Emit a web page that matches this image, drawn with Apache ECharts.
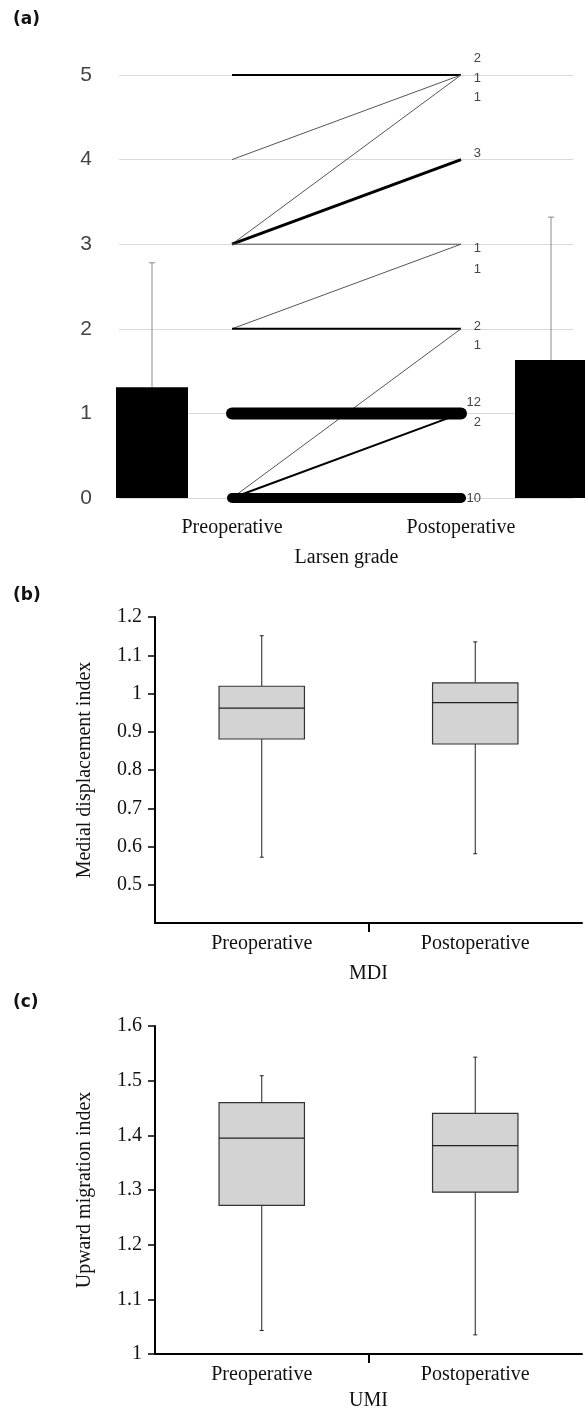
<!DOCTYPE html>
<html><head><meta charset="utf-8">
<script src="https://cdn.jsdelivr.net/npm/echarts@6/dist/echarts.min.js"></script>
<style>html,body{margin:0;padding:0;background:#fff}#c{width:585px;height:1412px}</style>
</head><body><div id="c"></div>
<script>
// ---------- data ----------
const groups = ['Preoperative', 'Postoperative'];
// Panel (a): Larsen grade
const barMean  = [1.31, 1.63];
const barUpper = [2.78, 3.32];
const preGrade  = [5, 4, 3, 3, 3, 2, 2, 0, 1, 0, 0];
const postGrade = [5, 5, 5, 4, 3, 3, 2, 2, 1, 1, 0];
const patients  = [2, 1, 1, 3, 1, 1, 2, 1, 12, 2, 10];
// Panel (b): MDI  [min, Q1, median, Q3, max]
const mdiPre  = [0.572, 0.881, 0.962, 1.019, 1.151];
const mdiPost = [0.581, 0.868, 0.976, 1.028, 1.135];
const mdiTicks = [0.5, 0.6, 0.7, 0.8, 0.9, 1.0, 1.1, 1.2];
// Panel (c): UMI  [min, Q1, median, Q3, max]
const umiPre  = [1.043, 1.272, 1.395, 1.460, 1.509];
const umiPost = [1.035, 1.296, 1.381, 1.440, 1.543];
const umiTicks = [1.0, 1.1, 1.2, 1.3, 1.4, 1.5, 1.6];

// ---------- styling helpers ----------
const SERIF = 'Liberation Serif';
const SANS = 'Liberation Sans';
const stackDy = {5: [-17, 3, 22], 4: [-6], 3: [4, 25], 2: [-2, 17], 1: [-11, 9], 0: [0]};

const chart = echarts.init(document.getElementById('c'), null, {renderer: 'canvas'});

const lineSeries = patients.map((n, i) => ({
  type: 'line', xAxisIndex: 1, yAxisIndex: 1, silent: true, animation: false,
  symbol: 'none', z: 5,
  data: [preGrade[i], postGrade[i]],
  lineStyle: {width: n, color: n === 1 ? '#555' : '#000', cap: n >= 10 ? 'round' : 'butt'}
}));

const labelData = patients.map((n, i) => {
  let rank = 0;
  for (let j = 0; j < i; j++) if (postGrade[j] === postGrade[i]) rank++;
  return [1, postGrade[i], n, rank];
});

function boxItem(params, api) {
  const i = api.value(0);
  const v = [1, 2, 3, 4, 5].map(k => api.value(k));
  const c = v.map(x => api.coord([i, x]));
  const cx = c[0][0];
  const bw = api.size([1, 0])[0] * 0.4;
  const ln = (x1, y1, x2, y2, w) => ({type: 'line', shape: {x1, y1, x2, y2}, style: {stroke: '#222', lineWidth: w || 1}});
  return {type: 'group', children: [
    ln(cx, c[4][1], cx, c[3][1]), ln(cx, c[1][1], cx, c[0][1]),
    ln(cx - 2, c[4][1], cx + 2, c[4][1]), ln(cx - 2, c[0][1], cx + 2, c[0][1]),
    {type: 'rect', shape: {x: cx - bw / 2, y: c[3][1], width: bw, height: c[1][1] - c[3][1]},
     style: {fill: '#d3d3d3', stroke: '#333', lineWidth: 1.2}},
    ln(cx - bw / 2, c[2][1], cx + bw / 2, c[2][1], 1.2)
  ]};
}

function boxXAxes(gridIndex, name, nameGap) {
  return [{
    type: 'category', gridIndex, position: 'bottom', data: groups, boundaryGap: true,
    axisLine: {lineStyle: {color: '#000', width: 2}}, axisTick: {show: false},
    axisLabel: {interval: 0, margin: 11, fontFamily: SERIF, fontSize: 20, color: '#111'},
    name, nameLocation: 'middle', nameGap, nameTextStyle: {fontFamily: SERIF, fontSize: 20, color: '#111'}
  }, {
    type: 'category', gridIndex, position: 'bottom', data: ['a', 'b', 'c'], boundaryGap: false,
    axisLine: {show: false}, axisLabel: {show: false}, splitLine: {show: false},
    axisTick: {show: true, interval: (idx) => idx === 1, length: 9, lineStyle: {color: '#000', width: 2}}
  }];
}
function boxYAxis(gridIndex, min, max, ticks, name) {
  return {
    type: 'value', gridIndex, min, max, interval: 0.1,
    axisLine: {show: true, lineStyle: {color: '#000', width: 2}},
    axisTick: {show: true, length: 7, customValues: ticks, lineStyle: {color: '#000', width: 1.5}},
    splitLine: {show: false},
    axisLabel: {margin: 13, fontFamily: SERIF, fontSize: 20, color: '#111', customValues: ticks,
      formatter: v => String(+(+v).toFixed(1))},
    name, nameLocation: 'middle', nameRotate: 90, nameGap: 60,
    nameTextStyle: {fontFamily: SERIF, fontSize: 20, color: '#111'}
  };
}

const xb = boxXAxes(3, 'MDI', 41);
const xc = boxXAxes(4, 'UMI', 37);

const option = {
  animation: false,
  backgroundColor: '#fff',
  graphic: [
    {type: 'text', left: 13, top: 11, style: {text: '(a)', font: 'bold 17px "DejaVu Sans"', fill: '#111'}},
    {type: 'text', left: 13, top: 587, style: {text: '(b)', font: 'bold 17px "DejaVu Sans"', fill: '#111'}},
    {type: 'text', left: 13, top: 994, style: {text: '(c)', font: 'bold 17px "DejaVu Sans"', fill: '#111'}}
  ],
  grid: [
    {left: 119, right: 12, top: 75, height: 423},
    {left: 232, right: 124, top: 75, height: 423},
    {left: 152, right: 34, top: 75, height: 423},
    {left: 155, right: 3, top: 617, height: 306},
    {left: 155, right: 3, top: 1026, height: 332}
  ],
  xAxis: [
    {type: 'value', gridIndex: 0, min: 0, max: 1, show: false},
    {type: 'category', gridIndex: 1, data: groups, boundaryGap: false,
     axisLine: {show: false}, axisTick: {show: false},
     axisLabel: {interval: 0, margin: 20, fontFamily: SERIF, fontSize: 20, color: '#111'},
     name: 'Larsen grade', nameLocation: 'middle', nameGap: 50,
     nameTextStyle: {fontFamily: SERIF, fontSize: 20, color: '#111'}},
    {type: 'category', gridIndex: 2, data: groups, boundaryGap: false, show: false},
    xb[0], xc[0], xb[1], xc[1]
  ],
  yAxis: [
    {type: 'value', gridIndex: 0, min: 0, max: 5, interval: 1,
     axisLine: {show: false}, axisTick: {show: false},
     axisLabel: {margin: 27, fontFamily: SANS, fontSize: 21, color: '#444'},
     splitLine: {show: true, lineStyle: {color: '#d9d9d9', width: 1}}},
    {type: 'value', gridIndex: 1, min: 0, max: 5, show: false},
    {type: 'value', gridIndex: 2, min: 0, max: 5, show: false},
    boxYAxis(3, 0.4, 1.2, mdiTicks, 'Medial displacement index'),
    boxYAxis(4, 1.0, 1.6, umiTicks, 'Upward migration index')
  ],
  series: [
    {type: 'bar', xAxisIndex: 2, yAxisIndex: 2, data: barMean, barWidth: 72,
     itemStyle: {color: '#000'}, silent: true, z: 3},
    {type: 'custom', xAxisIndex: 2, yAxisIndex: 2, silent: true, z: 3,
     data: barMean.map((m, i) => [i, m, barUpper[i]]),
     renderItem: (params, api) => {
       const base = api.coord([api.value(0), api.value(1)]);
       const top = api.coord([api.value(0), api.value(2)]);
       return {type: 'group', children: [
         {type: 'line', shape: {x1: base[0], y1: base[1], x2: top[0], y2: top[1]}, style: {stroke: '#8a8a8a', lineWidth: 1}},
         {type: 'line', shape: {x1: top[0] - 3, y1: top[1], x2: top[0] + 3, y2: top[1]}, style: {stroke: '#8a8a8a', lineWidth: 1}}
       ]};
     }},
    ...lineSeries,
    {type: 'custom', xAxisIndex: 1, yAxisIndex: 1, silent: true, z: 6,
     data: labelData,
     renderItem: (params, api) => {
       const p = api.coord([api.value(0), api.value(1)]);
       const dy = (stackDy[api.value(1)] || [0])[api.value(3)] || 0;
       return {type: 'text', x: p[0] + 20, y: p[1] + dy,
               style: {text: String(api.value(2)), align: 'right', verticalAlign: 'middle',
                       font: '13px "Liberation Sans"', fill: '#444'}};
     }},
    {type: 'custom', xAxisIndex: 3, yAxisIndex: 3, silent: true,
     encode: {x: 0, y: [1, 2, 3, 4, 5]},
     data: [[0, ...mdiPre], [1, ...mdiPost]], renderItem: boxItem},
    {type: 'custom', xAxisIndex: 4, yAxisIndex: 4, silent: true,
     encode: {x: 0, y: [1, 2, 3, 4, 5]},
     data: [[0, ...umiPre], [1, ...umiPost]], renderItem: boxItem}
  ]
};
chart.setOption(option);
</script>
</body></html>
